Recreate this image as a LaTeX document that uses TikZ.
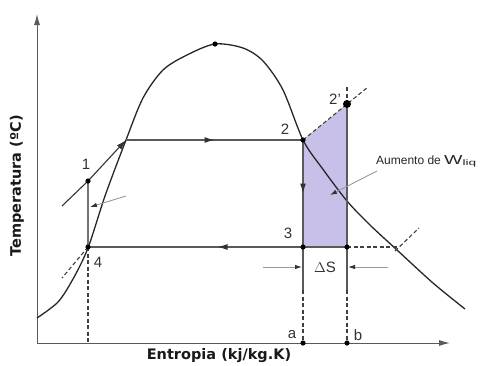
\documentclass[tikz,border=0pt]{standalone}
\usepackage{fontspec}
\setmainfont{Liberation Sans}
\newfontfamily\axisfont{DejaVu Sans}
\usepackage{xcolor}
\usepackage{graphicx}
\usetikzlibrary{arrows.meta}
\usetikzlibrary{decorations.markings}

\definecolor{lilac}{HTML}{C8C0E8}
\definecolor{linegray}{HTML}{5A5A5A}

\tikzset{
  cyc/.style={linegray,line width=1.1pt},
  dome/.style={black!85,line width=1.3pt},
  guide/.style={black!75,line width=1.1pt,dash pattern=on 4pt off 2.5pt},
  pointer/.style={black!40,line width=0.9pt,-{Latex[length=7pt,width=4.5pt,color=black!80]}},
  midarrow/.style={postaction={decorate},decoration={markings,
    mark=at position #1 with {\arrow{Latex[length=10pt,width=6pt,color=black!80]}}}},
  lbl/.style={font=\fontsize{15}{18}\selectfont,text=black!80},
  axlbl/.style={font=\axisfont\bfseries\fontsize{14.5}{17}\selectfont,text=black!90}
}

\begin{document}
\begin{tikzpicture}[x=1pt,y=-1pt]
\useasboundingbox (0,0) rectangle (482,365);
% state points
\coordinate (o) at (37,343);
\coordinate (c1) at (88,181);
\coordinate (c1in) at (62,206);
\coordinate (sat) at (126,140);
\coordinate (c2) at (303,140);
\coordinate (c2x) at (347,104);
\coordinate (c2ext) at (368,87);
\coordinate (c2tick) at (347,86);
\coordinate (c3) at (303,247);
\coordinate (c4) at (88,247);
\coordinate (c4tan) at (62,278);
\coordinate (c5) at (347,247);
\coordinate (cross) at (397,247);
\coordinate (crossa) at (395,251);
\coordinate (crossb) at (419,228);
\coordinate (ca) at (303,343);
\coordinate (cb) at (347,343);
\coordinate (ca1) at (303,290);
\coordinate (cb1) at (347,290);
\coordinate (c4d) at (88,343);
\coordinate (top) at (215,44);

% area
\fill[lilac] (c2) -- (c2x) -- (c5) -- (c3) -- cycle;

% axes
\draw[linegray,line width=1pt,-{Latex[length=11pt,width=6pt]}] (o) -- (37,14);
\draw[linegray,line width=1pt,-{Latex[length=11pt,width=6pt]}] (o) -- (450,343);

% saturation dome
\draw[dome] plot[smooth] coordinates {(37,318) (58,302) (73,279) (88,248) (105,196)
  (126,140) (143,98) (163,70) (187,55) (215,44) (243,48) (263,61) (283,90)
  (303,140) (322,168) (347,201) (370,225) (397,250) (433,283) (465,309)};

% cycle
\draw[cyc,midarrow=0.5] (sat) -- (c2);
\draw[cyc,midarrow=0.5] (c2) -- (c3);
\draw[cyc,midarrow=0.5] (c5) -- (c4);
\draw[cyc] (c5) -- (c2x);
\draw[cyc,black!55] (c1) -- (c4);
\draw[cyc,black!80,-{Latex[length=10pt,width=6pt]}] (c1in) -- (c1) -- (sat);
\draw[cyc] (c3) -- (ca1);
\draw[cyc] (c5) -- (cb1);

% dashed guides
\draw[guide] (c2) -- (c2ext);
\draw[guide] (c2x) -- (c2tick);
\draw[guide] (c5) -- (cross);
\draw[guide] (crossa) -- (crossb);
\draw[guide] (c4) -- (c4tan);
\draw[guide] (c4) -- (c4d);
\draw[guide] (ca1) -- (ca);
\draw[guide] (cb1) -- (cb);

% pointers
\draw[pointer] (126,196) -- (90,207);
\draw[pointer] (263,267) -- (302,267);
\draw[pointer] (388,267) -- (348,267);
\draw[pointer] (377,171) -- (330,195);

% dots
\foreach \p in {c1,c2,c3,c4,c5,ca,cb,top}
  \fill[black] (\p) circle (2.6pt);
\fill[black] (c2x) circle (4pt);

% labels
\node[lbl] (l1) at (86,164) {1};
\node[lbl] (l2) at (285,129) {2};
\node[lbl] (l2x) at (335,99) {2'};
\node[lbl] (l3) at (288,233) {3};
\node[lbl] (l4) at (98,262) {4};
\node[lbl] (la) at (292,335) {a};
\node[lbl] (lb) at (358,335) {b};
\node[lbl] (lds) at (325,267) {$\Delta$S};
\node[anchor=base west,inner sep=0pt,text=black!85,font=\fontsize{12}{14}\selectfont] (lw) at (376,164)
  {Aumento de {\fontsize{13}{16}\selectfont\scalebox{1.5}[1]{W}}\raisebox{-1.5pt}{\fontsize{8}{9}\selectfont\scalebox{1.7}[1]{liq}}};
\node[axlbl] (xlab) at (219,356) {Entropia (kj/kg.K)};
\node[axlbl,rotate=90] (ylab) at (17,186) {Temperatura (ºC)};
\end{tikzpicture}
\end{document}
